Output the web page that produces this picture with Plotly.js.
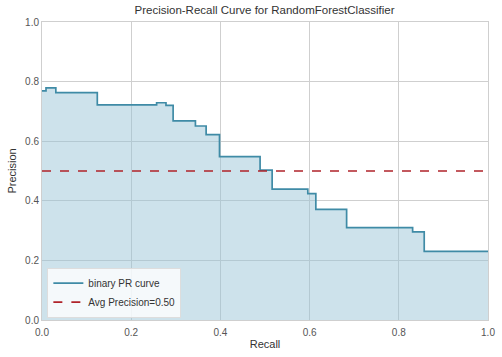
<!DOCTYPE html>
<html>
<head>
<meta charset="utf-8">
<script src="https://cdn.plot.ly/plotly-3.0.1.min.js"></script>
<style>html,body{margin:0;padding:0;background:#fff;}#chart{width:502px;height:357px;}</style>
</head>
<body>
<div id="chart"></div>
<script>
const recall = [0.0, 0.009, 0.031, 0.124, 0.257, 0.278, 0.294, 0.344, 0.368, 0.398, 0.489, 0.516, 0.596, 0.614, 0.683, 0.831, 0.857, 1.0];
const precision = [0.769, 0.779, 0.763, 0.722, 0.729, 0.720, 0.668, 0.651, 0.622, 0.548, 0.503, 0.439, 0.424, 0.371, 0.310, 0.296, 0.230, 0.230];
const avgPrecision = 0.50;
const xTicks = [0, 0.2, 0.4, 0.6, 0.8, 1.0];
const yTicks = [0, 0.2, 0.4, 0.6, 0.8, 1.0];

const lineColor = '#3f8ba6';
const font = 'Liberation Sans, Arial, sans-serif';

const traces = [
  {x: recall, y: precision, type: 'scatter', mode: 'lines', line: {shape: 'hv', width: 0},
   fill: 'tozeroy', fillcolor: 'rgba(150,195,214,0.48)', showlegend: false, hoverinfo: 'skip'},
  {x: recall, y: precision, type: 'scatter', mode: 'lines', name: 'binary PR curve',
   line: {shape: 'hv', color: lineColor, width: 1.7}},
  {x: [0, 1], y: [avgPrecision, avgPrecision], type: 'scatter', mode: 'lines',
   name: 'Avg Precision=' + avgPrecision.toFixed(2),
   line: {color: '#b0232a', width: 1.6, dash: 'dash'}}
];

const layout = {
  width: 502, height: 357,
  margin: {l: 42, r: 14, t: 22, b: 37},
  paper_bgcolor: '#ffffff', plot_bgcolor: '#ffffff',
  font: {family: font, size: 10, color: '#444'},
  title: {text: 'Precision-Recall Curve for RandomForestClassifier', font: {size: 11.5, color: '#333'},
          x: 0.527, xanchor: 'center', y: 0.972, yanchor: 'middle'},
  xaxis: {range: [0, 1], tickvals: xTicks, tickformat: '.1f', showgrid: true, gridcolor: '#cfcfcf',
          zeroline: false, showline: true, linecolor: '#cfcfcf', mirror: true, ticks: '',
          ticklabelstandoff: 3,
          title: {text: 'Recall', font: {size: 11, color: '#333'}, standoff: 3},
          tickfont: {size: 10, color: '#555'}},
  yaxis: {range: [0, 1], tickvals: yTicks, tickformat: '.1f', showgrid: true, gridcolor: '#cfcfcf',
          zeroline: false, showline: true, linecolor: '#cfcfcf', mirror: true, ticks: '',
          title: {text: 'Precision', font: {size: 11, color: '#333'}, standoff: 6},
          tickfont: {size: 10, color: '#555'}},
  legend: {x: 0.012, y: 0.008, xanchor: 'left', yanchor: 'bottom', bgcolor: 'rgba(255,255,255,0.8)',
           bordercolor: '#dddddd', borderwidth: 1, font: {size: 10, color: '#333'},
           tracegroupgap: 0, itemwidth: 30},
  showlegend: true
};

Plotly.newPlot('chart', traces, layout, {displayModeBar: false, staticPlot: true});
</script>
</body>
</html>
